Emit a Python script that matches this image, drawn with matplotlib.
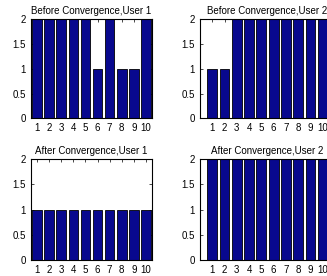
import matplotlib
matplotlib.use("Agg")
import matplotlib.pyplot as plt

categories = [1, 2, 3, 4, 5, 6, 7, 8, 9, 10]
before_user1 = [2, 2, 2, 2, 2, 1, 2, 1, 1, 2]
before_user2 = [1, 1, 2, 2, 2, 2, 2, 2, 2, 2]
after_user1 = [1, 1, 1, 1, 1, 1, 1, 1, 1, 1]
after_user2 = [2, 2, 2, 2, 2, 2, 2, 2, 2, 2]
titles = ["Before Convergence,User 1", "Before Convergence,User 2",
          "After Convergence,User 1", "After Convergence,User 2"]
yticks = [0, 0.5, 1, 1.5, 2]
ytick_labels = ["0", "0.5", "1", "1.5", "2"]

plt.rcParams['font.family'] = ['Liberation Sans', 'DejaVu Sans']
fig = plt.figure(figsize=(3.27, 2.76), dpi=100)
W, H = 327, 276

def axpx(x0, y0, x1, y1):
    return fig.add_axes([x0 / W, 1 - y1 / H, (x1 - x0) / W, (y1 - y0) / H])

specs = [
    (axpx(31, 19.3, 152, 118.3), before_user1, titles[0], (0.5, 10.5)),
    (axpx(200, 19.3, 335, 118.3), before_user2, titles[1], (0, 11)),
    (axpx(31, 159.3, 152, 259.7), after_user1, titles[2], (0.5, 10.5)),
    (axpx(200, 159.3, 335, 259.7), after_user2, titles[3], (0, 11)),
]

for ax, vals, title, xl in specs:
    ax.bar(categories, vals, width=0.8, color='#08088e', edgecolor='black',
           linewidth=0.6, zorder=2)
    ax.set_xlim(*xl)
    ax.set_ylim(0, 2)
    ax.set_xticks(categories)
    ax.set_xticklabels([str(c) for c in categories])
    ax.set_yticks(yticks)
    ax.set_yticklabels(ytick_labels)
    ax.tick_params(direction='in', length=2.5, width=0.5, labelsize=7,
                   top=True, right=True, pad=3.5)
    for s in ax.spines.values():
        s.set_linewidth(0.8)
        s.set_zorder(3)
    ax.set_title(title, fontsize=7, pad=3.5)

fig.savefig("out.png", dpi=100)
